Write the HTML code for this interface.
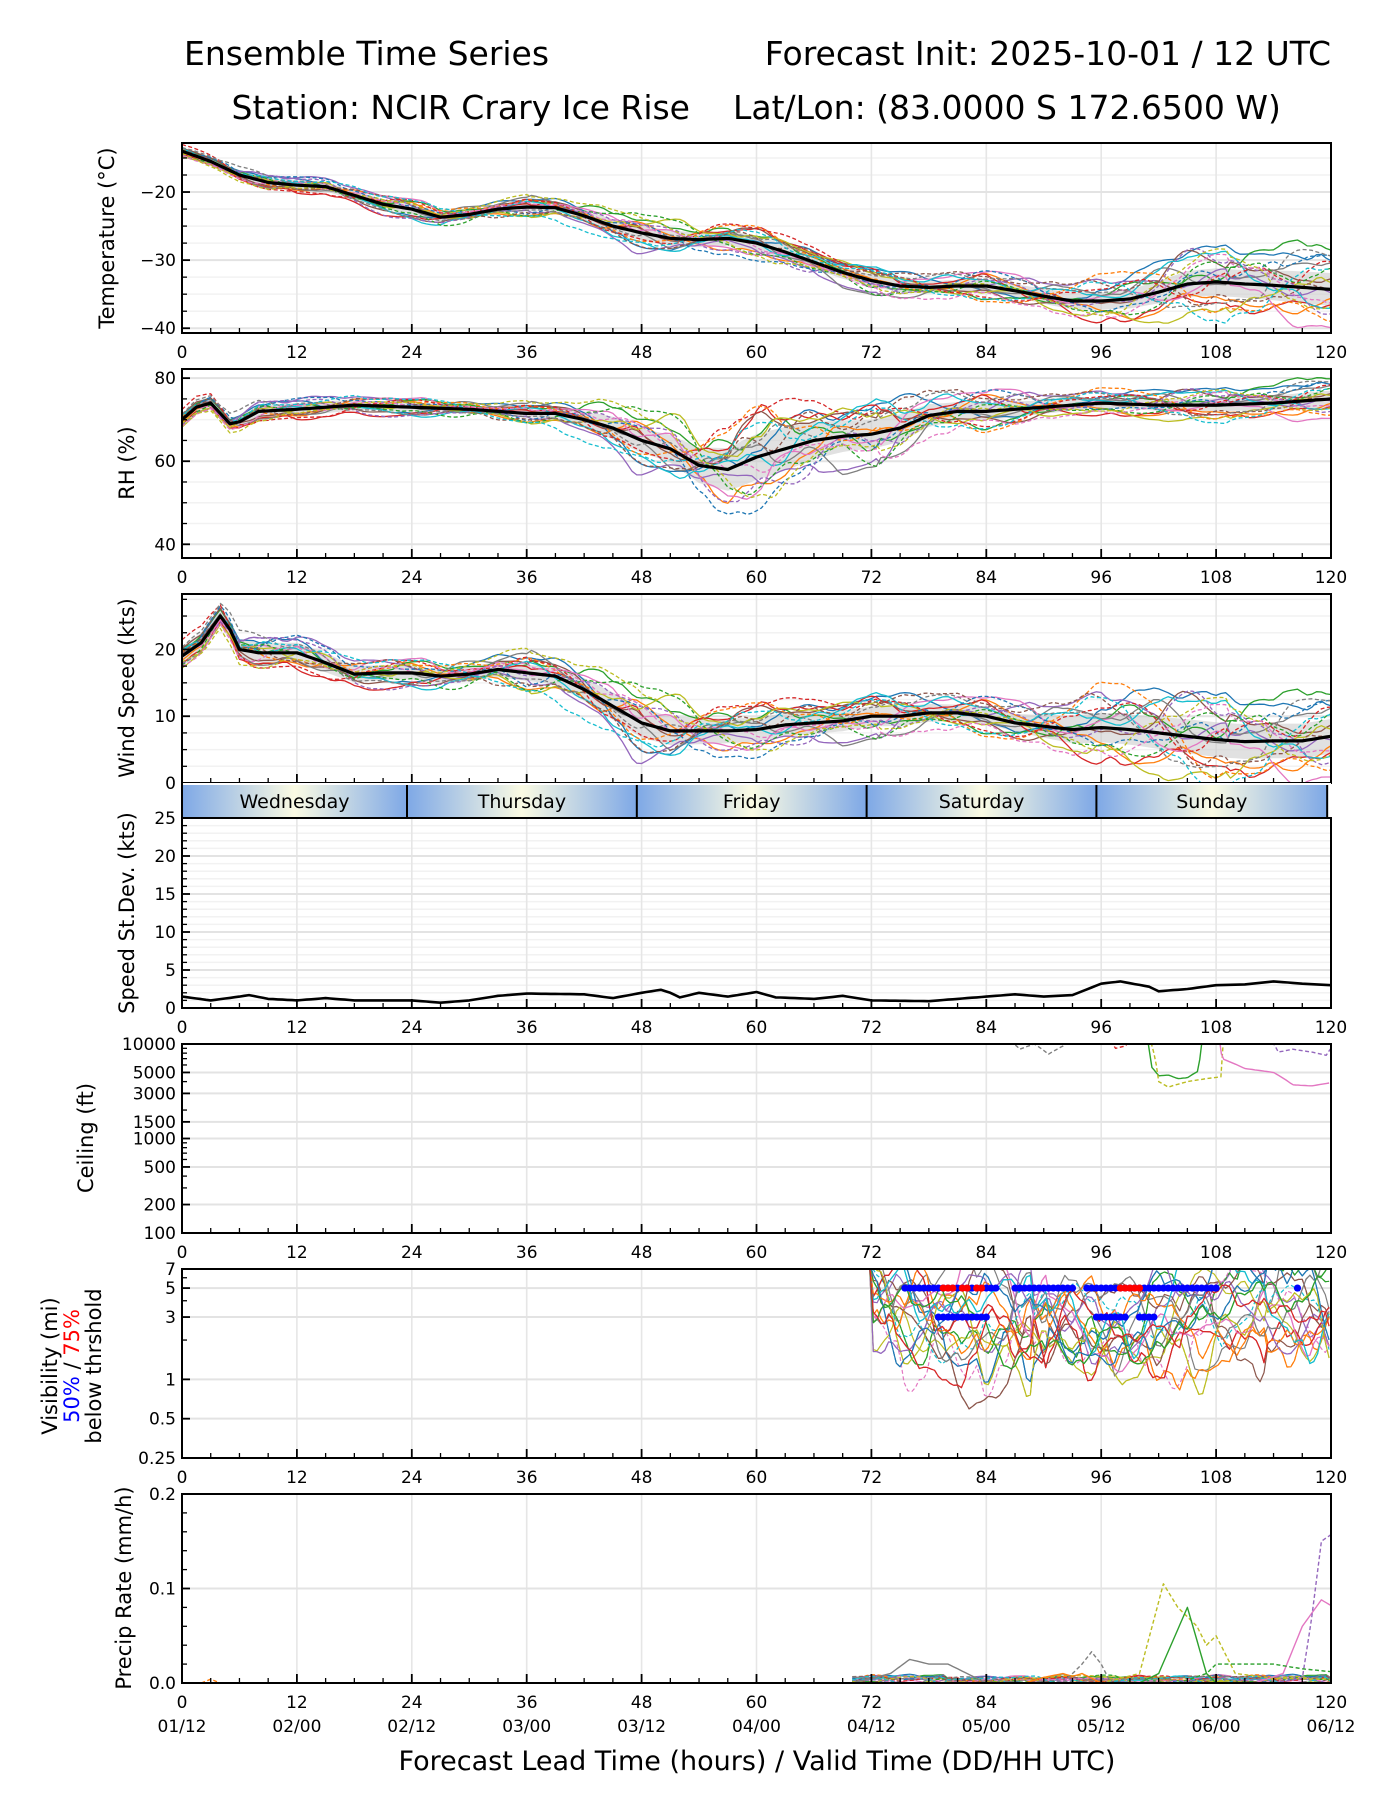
<!DOCTYPE html>
<html><head><meta charset="utf-8">
<style>
html,body{margin:0;padding:0;background:#fff;}
svg{display:block;font-family:"DejaVu Sans","Liberation Sans",sans-serif;}
</style></head>
<body>
<svg id="chart" width="1400" height="1800" viewBox="0 0 1400 1800" xmlns="http://www.w3.org/2000/svg">
<text x="184" y="65" font-size="33">Ensemble Time Series</text>
<text x="1331" y="65" font-size="33" text-anchor="end">Forecast Init: 2025-10-01 / 12 UTC</text>
<text x="690" y="119" font-size="33" text-anchor="end">Station: NCIR Crary Ice Rise</text>
<text x="733" y="119" font-size="33">Lat/Lon: (83.0000 S 172.6500 W)</text>
<text x="757" y="1770" font-size="27" text-anchor="middle">Forecast Lead Time (hours) / Valid Time (DD/HH UTC)</text>
</svg>
<script>
// ---- data ----
const hours12 = [0,12,24,36,48,60,72,84,96,108,120];
const validLabels = ["01/12","02/00","02/12","03/00","03/12","04/00","04/12","05/00","05/12","06/00","06/12"];
const days = ["Wednesday","Thursday","Friday","Saturday","Sunday"];
const dayStarts = [0,23.5,47.5,71.5,95.5];
const dayEnds = [23.5,47.5,71.5,95.5,119.6];

const tempH = [0,3,6,9,12,15,18,21,24,27,30,33,36,39,42,45,48,51,54,57,60,63,66,69,72,75,78,81,84,87,90,93,96,99,102,105,108,111,114,117,120];
const tempMean = [-14,-15.5,-17.5,-18.6,-19,-19.2,-20.5,-21.8,-22.5,-23.7,-23.3,-22.5,-22.2,-22.3,-23.5,-25,-26,-26.8,-27,-26.8,-27.5,-28.8,-30.3,-31.8,-33,-33.8,-34,-33.8,-33.8,-34.5,-35.3,-36,-36,-35.7,-34.7,-33.5,-33.2,-33.5,-33.7,-34,-34.3];
const tempSpread = [0.6,0.7,0.7,0.6,1.1,1.1,0.9,0.9,1.3,2.0,2.4];

const rhH = [0,1.5,3,5,6,8,12,18,24,30,36,39,42,45,48,51,54,57,60,63,66,69,72,75,78,81,84,90,96,102,108,114,120];
const rhMean = [70,73,74,69,69.5,72,72.5,73.5,73,72.5,71.5,71.5,70,68,65,63,59,58,61,63,65,66,66.5,68,71,72,72,73,74,73.5,73.5,74,75];
const rhSpread = [1.5,1.5,1.0,1.0,3.0,5.5,3.5,2.0,1.2,1.5,2.0];

const windH = [0,2,4,5,6,8,12,15,18,21,24,27,30,33,36,39,42,45,48,51,54,57,60,63,66,69,72,75,78,81,84,87,90,93,96,99,102,105,108,111,114,117,120];
const windMean = [19,21,25,23,20,19.5,19.5,18,16.3,16.5,16.5,16,16.3,17,16.5,16,14,11.5,9,7.8,7.8,7.8,8,8.7,9,9.3,10,10,10.5,10.5,10,9,8.5,8,8.3,8,7.5,7,6.5,6.2,6.3,6.3,7];
const windSpread = [1.5,1.5,1.0,1.2,2.2,1.8,1.5,1.2,2.2,2.6,2.6];

const sdH = [0,3,6,7,9,12,15,18,24,27,30,33,36,42,45,48,50,51,52,54,57,60,62,66,69,72,78,84,87,90,93,96,98,101,102,105,108,111,114,117,120];
const sdVals = [1.5,1.0,1.5,1.7,1.2,1.0,1.3,1.0,1.0,0.7,1.0,1.6,1.9,1.8,1.3,2.0,2.4,2.0,1.4,2.0,1.5,2.1,1.4,1.2,1.6,1.0,0.9,1.5,1.8,1.5,1.7,3.2,3.5,2.8,2.2,2.5,3.0,3.1,3.5,3.2,3.0];

const visH = [70,72,76,80,84,88,92,96,100,104,108,112,116,120];
const visCenter = [9,4,2.8,2.3,2.6,2.4,2.6,2.0,2.1,2.6,3.2,3.6,3.2,2.8];
const vis50at5 = [[75.5,85],[87,90.5],[91,93],[94.5,108],[116.5,116.5]];
const vis50at3 = [[79,82],[82.5,84],[95.5,98.5],[100,101.5]];
const vis75at5 = [[79.5,80.5],[81.5,82],[83,83.5],[98,99],[99.5,100]];

const ceilSeries = [
 {c:"#7f7f7f",d:true,h:[86,87.5,89,90.5,92,93.5],v:[12000,8800,10000,7800,9500,12000]},
 {c:"#d62728",d:true,h:[96.5,97.5,98.5,99.5],v:[12000,9000,9500,12000]},
 {c:"#2ca02c",d:false,h:[100.8,101.2,102,103,104,105,106.2,106.6],v:[12000,5800,4600,4700,4300,4400,5200,12000]},
 {c:"#bcbd22",d:true,h:[101,102,103,105,107,108.5,108.8],v:[12000,4000,3500,4000,4300,4500,12000]},
 {c:"#e377c2",d:false,h:[108.3,108.6,111,114,116,118,120],v:[12000,7000,5500,5000,3700,3600,3900]},
 {c:"#9467bd",d:true,h:[113.5,114.5,116,118,119.5,120],v:[12000,8200,8800,8200,7600,9000]}
];
const precipSeries = [
 {c:"#bcbd22",d:true,h:[96,100,102.5,104,106,107,108,110,114,120],v:[0,0.01,0.105,0.08,0.06,0.04,0.05,0.01,0.005,0.004]},
 {c:"#2ca02c",d:false,h:[100,102,105,107,108,120],v:[0,0.01,0.08,0.01,0,0]},
 {c:"#e377c2",d:false,h:[112,115,117,119,120],v:[0,0.01,0.06,0.088,0.082]},
 {c:"#9467bd",d:true,h:[114,117,118,119,120],v:[0,0.005,0.07,0.15,0.157]},
 {c:"#7f7f7f",d:false,h:[70,72,74,76,78,80,82,84],v:[0,0.005,0.01,0.025,0.02,0.02,0.01,0]},
 {c:"#2ca02c",d:true,h:[104,107,108,111,114,117,120],v:[0,0.01,0.02,0.02,0.02,0.015,0.012]},
 {c:"#ff7f0e",d:false,h:[88,90,92,93,94,96],v:[0,0.006,0.01,0.007,0.01,0]},
 {c:"#7f7f7f",d:true,h:[92,94,95,96,97],v:[0,0.02,0.033,0.02,0]},
 {c:"#ff7f0e",d:true,h:[2,3,4],v:[0,0.004,0]}
];

// member deviations (standardized) at 12h nodes
const memberZ = [
[0.3,0.8,-0.5,1.2,-0.9,0.4,1.5,-0.6,0.9,2.0,1.2],
[-0.2,-0.6,0.9,-1.1,0.5,-1.3,0.2,1.1,-0.8,-1.5,-0.4],
[0.5,0.2,0.4,0.7,1.3,0.9,-0.5,-1.4,0.6,0.8,1.8],
[-0.6,-1.2,-0.8,0.3,-0.4,1.6,0.8,0.4,-1.6,-0.9,-1.2],
[0.1,1.1,0.6,-0.4,-1.5,-0.7,-1.2,0.9,1.4,0.3,-0.2],
[0.7,-0.3,-1.3,0.9,0.2,0.6,1.1,-0.9,-0.3,1.3,0.6],
[-0.4,0.4,1.2,-0.2,0.8,-1.0,-0.3,1.6,0.2,-0.6,-1.8],
[0.2,-0.9,0.1,1.5,-0.6,0.3,-1.6,-0.2,1.1,0.5,0.9],
[-0.8,0.6,-0.2,-1.4,1.1,1.2,0.5,-0.5,-1.1,-1.8,0.3],
[0.4,-0.1,-1.0,0.5,-1.2,-0.3,1.7,0.7,0.4,1.6,-0.7],
[-0.1,1.4,0.3,-0.7,0.4,-1.6,-0.8,1.3,-0.5,0.1,1.4],
[0.6,-0.7,0.8,1.0,-0.2,0.8,0.3,-1.2,1.7,-1.1,-0.9],
[-0.5,0.3,-0.6,-0.9,1.6,-0.2,-1.1,0.2,-0.9,0.9,0.5],
[0.9,-1.3,0.5,0.2,-0.8,1.4,0.9,-1.7,0.8,-0.3,1.1],
[-0.3,0.9,-1.5,0.6,0.6,-0.9,-0.4,0.5,-0.2,1.9,-1.4],
[0.0,-0.4,1.0,-1.6,-1.0,0.1,1.3,1.0,1.3,-1.3,0.2],
[-0.7,0.1,-0.3,0.8,0.9,-0.5,-1.4,-0.8,-1.3,0.6,-0.5],
[0.8,1.0,-0.9,-0.5,-0.3,1.0,0.6,1.4,0.5,-0.7,1.6],
[-0.9,-1.0,0.7,1.3,1.4,-1.2,-0.9,-0.3,-0.6,1.1,-1.1],
[0.3,0.5,1.4,-1.2,-1.3,0.7,1.0,-1.1,1.0,-1.6,0.8]];
const memberColors = ["#1f77b4","#ff7f0e","#2ca02c","#d62728","#9467bd","#8c564b","#e377c2","#7f7f7f","#bcbd22","#17becf"];

// ---- helpers ----
const NS="http://www.w3.org/2000/svg";
const svg=document.getElementById('chart');
const X0=182, X1=1331;
function xs(h){return X0+(X1-X0)*h/120;}
function mk(tag,attrs,parent){const e=document.createElementNS(NS,tag);for(const k in attrs)e.setAttribute(k,attrs[k]);(parent||svg).appendChild(e);return e;}
function lin(H,V,t){if(t<=H[0])return V[0];for(let i=1;i<H.length;i++){if(t<=H[i]){const f=(t-H[i-1])/(H[i]-H[i-1]);return V[i-1]+f*(V[i]-V[i-1]);}}return V[V.length-1];}
function smooth12(arr,t){const k=Math.min(9,Math.floor(t/12));const f=(t-k*12)/12;const g=(1-Math.cos(Math.PI*f))/2;return arr[k]*(1-g)+arr[k+1]*g;}
function zAt(i,t){const a=smooth12(memberZ[i],t);const j=(i+7)%20;const k=Math.floor(t/4)%11, k2=(k+1)%11, f=(t%4)/4, g=(1-Math.cos(Math.PI*f))/2;const w=memberZ[j][k]*(1-g)+memberZ[j][k2]*g;return a+0.35*w;}

function panel(name,top,bot,yfun,yticks,ytickLabels,minorY,gridMinor){
  const g=mk('g',{});
  
  
  const cid='clip-'+name;
  const cp=mk('clipPath',{id:cid},g);mk('rect',{x:X0,y:top,width:X1-X0,height:bot-top},cp);
  gridMinor.forEach(v=>{const y=yfun(v);mk('line',{x1:X0,x2:X1,y1:y,y2:y,stroke:'#f2f2f2','stroke-width':1.5},g);});
  hours12.forEach(h=>{mk('line',{x1:xs(h),x2:xs(h),y1:top,y2:bot,stroke:'#e6e6e6','stroke-width':1.6},g);});
  yticks.forEach(v=>{const y=yfun(v);mk('line',{x1:X0,x2:X1,y1:y,y2:y,stroke:'#e3e3e3','stroke-width':2},g);});
  const plot=mk('g',{'clip-path':'url(#'+cid+')'},g);
  return {g,plot,top,bot,yfun,finish:function(showX){
    for(let h=0;h<=120;h+=3){const big=h%12===0;mk('line',{x1:xs(h),x2:xs(h),y1:bot,y2:bot-(big?9:5),stroke:'#000','stroke-width':big?1.8:1.3},g);}
    yticks.forEach(v=>{const y=yfun(v);mk('line',{x1:X0,x2:X0+8,y1:y,y2:y,stroke:'#000','stroke-width':1.8},g);});
    minorY.forEach(v=>{const y=yfun(v);mk('line',{x1:X0,x2:X0+5,y1:y,y2:y,stroke:'#000','stroke-width':1.3},g);});
    mk('rect',{x:X0,y:top,width:X1-X0,height:bot-top,fill:'none',stroke:'#000','stroke-width':2},g);
    yticks.forEach((v,i)=>{const t=mk('text',{x:X0-6,y:yfun(v)+6,'font-size':17,'text-anchor':'end'},g);t.textContent=ytickLabels[i];
      
      });
    if(showX){hours12.forEach(h=>{const t=mk('text',{x:xs(h),y:bot+25,'font-size':17,'text-anchor':'middle'},g);t.textContent=String(h);
      
      });}
  }};
}
function poly(parent,pts,color,width,dash,name){
  const d='M'+pts.map(p=>p[0].toFixed(1)+','+p[1].toFixed(1)).join('L');
  const a={d:d,fill:'none',stroke:color,'stroke-width':width,'stroke-linejoin':'round'};
  if(dash)a['stroke-dasharray']='4,2.5';
  const p=mk('path',a,parent);
  
  
  return p;
}
function ensemblePanel(P,H,mean,spread){
  const up=[],dn=[];
  for(let t=0;t<=120;t+=0.5){const m=lin(H,mean,t),s=smooth12(spread,t);up.push([xs(t),P.yfun(m+s)]);dn.push([xs(t),P.yfun(m-s)]);}
  const band=mk('path',{d:'M'+up.concat(dn.reverse()).map(p=>p[0].toFixed(1)+','+p[1].toFixed(1)).join('L')+'Z',fill:'#c8c8c8','fill-opacity':0.55},P.plot);
  
  
  for(let i=0;i<20;i++){
    const pts=[];for(let t=0;t<=120;t+=0.5){pts.push([xs(t),P.yfun(lin(H,mean,t)+smooth12(spread,t)*1.3*(zAt(i,t)+0.3*zAt((i+4)%20,(t*3.3)%120)))]);}
    poly(P.plot,pts,memberColors[i%10],1.3,i>=10,'ensemble-member');
  }
  const pts=[];for(let t=0;t<=120;t+=0.5){pts.push([xs(t),P.yfun(lin(H,mean,t))]);}
  poly(P.plot,pts,'#000',3.2,false,'ensemble-mean-line');
}
function ylab(text,x,y,name,size){const t=mk('text',{x:x,y:y,'font-size':size||21,'text-anchor':'middle',transform:'rotate(-90 '+x+' '+y+')'});t.textContent=text;
  
  return t;}
function rng(a,b,s){const r=[];for(let v=a;v<=b+1e-9;v+=s)r.push(+v.toFixed(3));return r;}

// ---- Temperature ----
let lo=-40.7,hi=-12.8;
let P=panel('temperature',143,333,v=>143+(hi-v)/(hi-lo)*190,[-20,-30,-40],['\u221220','\u221230','\u221240'],rng(-40,-14,2.5).filter(v=>v%10!==0),rng(-40,-14,2.5));
ensemblePanel(P,tempH,tempMean,tempSpread);P.finish(true);
ylab('Temperature (\u00b0C)',114,238,'temperature-axis-title');

// ---- RH ----
const rlo=36.7,rhi=82.2;
P=panel('rh',369,558,v=>369+(rhi-v)/(rhi-rlo)*189,[40,60,80],['40','60','80'],rng(40,80,5).filter(v=>v%20!==0),rng(40,80,5));
ensemblePanel(P,rhH,rhMean,rhSpread);P.finish(true);
ylab('RH (%)',134,463,'rh-axis-title');

// ---- Wind ----
const whi=28.3;
P=panel('wind',594,783,v=>783-v/whi*189,[0,10,20],['0','10','20'],rng(2.5,27.5,2.5).filter(v=>v%10!==0),rng(2.5,27.5,2.5));
ensemblePanel(P,windH,windMean,windSpread);P.finish(false);
ylab('Wind Speed (kts)',134,688,'wind-axis-title');

// ---- Day bar ----
const defs=mk('defs',{});
mk('rect',{x:X0,y:783,width:X1-X0,height:35,fill:'#fff'});
days.forEach((d,i)=>{
  const gid='dg'+i;const lg=mk('linearGradient',{id:gid,x1:0,x2:1,y1:0,y2:0},defs);
  [[0,'#7ea8e6'],[0.5,'#fbfbe3'],[1,'#7ea8e6']].forEach(s=>mk('stop',{offset:s[0],'stop-color':s[1]},lg));
  const r=mk('rect',{x:xs(dayStarts[i]),y:785,width:xs(dayEnds[i])-xs(dayStarts[i]),height:32,fill:'url(#'+gid+')'});
  
  
  if(i>0){mk('line',{x1:xs(dayStarts[i]),x2:xs(dayStarts[i]),y1:785,y2:817,stroke:'#000','stroke-width':2});}
  const t=mk('text',{x:(xs(dayStarts[i])+xs(dayEnds[i]))/2,y:808,'font-size':19,'text-anchor':'middle'});t.textContent=d;
  
  
});
mk('line',{x1:xs(119.6),x2:xs(119.6),y1:785,y2:817,stroke:'#000','stroke-width':2});
mk('line',{x1:X0,x2:X0,y1:783,y2:818,stroke:'#000','stroke-width':2});

// ---- StDev ----
P=panel('stdev',818,1008,v=>1008-v/25*190,[0,5,10,15,20,25],['0','5','10','15','20','25'],rng(1,24,1).filter(v=>v%5!==0),rng(1,24,1));
{const pts=[];for(let t=0;t<=120;t+=0.5)pts.push([xs(t),P.yfun(lin(sdH,sdVals,t))]);poly(P.plot,pts,'#000',2.6,false,'speed-stdev-line');}
P.finish(true);
ylab('Speed St.Dev. (kts)',134,913,'stdev-axis-title');

// ---- Ceiling ----
const cl=v=>1233-(Math.log10(v)-2)/2*189;
P=panel('ceiling',1044,1233,cl,[100,200,500,1000,1500,3000,5000,10000],['100','200','500','1000','1500','3000','5000','10000'],[300,400,600,700,800,900,2000,4000,6000,7000,8000,9000],[]);
ceilSeries.forEach(s=>{const pts=[];const a=s.h[0],b=s.h[s.h.length-1];for(let t=a;t<=b+1e-6;t+=0.25)pts.push([xs(t),cl(lin(s.h,s.v,t))]);poly(P.plot,pts,s.c,1.4,s.d,'ceiling-member');});
P.finish(true);
ylab('Ceiling (ft)',93,1138,'ceiling-axis-title');

// ---- Visibility ----
const vl=v=>1458-(Math.log(v)-Math.log(0.25))/(Math.log(7)-Math.log(0.25))*189;
P=panel('visibility',1269,1458,vl,[0.25,0.5,1,3,5,7],['0.25','0.5','1','3','5','7'],[2,4,6],[]);
for(let i=0;i<34;i++){
  const pts=[];const zi=i%20;
  for(let t=69;t<=120;t+=0.4){
    const c=lin(visH,visCenter,t);
    const j=(zi+3)%20;
    const w=0.6*zAt(zi,t)+0.6*zAt(j,(t*2.7)%120)+0.45*zAt((zi+11)%20,(t*5.3)%120);
    let v=c*Math.exp(0.62*w);if(t<72)v=Math.max(v,7*Math.exp((72-t)*0.5));
    pts.push([xs(t),vl(v)]);
  }
  poly(P.plot,pts,memberColors[i%10],1.2,(i%3===1),'visibility-member');
}
function dots(ranges,val,color,name){ranges.forEach(r=>{for(let t=r[0];t<=r[1]+1e-6;t+=0.5){const c=mk('circle',{cx:xs(t),cy:vl(val),r:3.6,fill:color},P.plot);
  
  }});}
dots(vis50at5,5,'#0000ff','vis-50pct-marker');
dots(vis75at5,5,'#ff0000','vis-75pct-marker');
dots(vis50at3,3,'#0000ff','vis-50pct-marker');
P.finish(true);
{const x=57,y=1366;const t=mk('text',{x:x,y:y,'font-size':21,'text-anchor':'middle',transform:'rotate(-90 '+x+' '+y+')'});t.textContent='Visibility (mi)';
 
 
 const x2=79;const t2=mk('text',{x:x2,y:y,'font-size':21,'text-anchor':'middle',transform:'rotate(-90 '+x2+' '+y+')'});
 
 
 const s1=mk('tspan',{fill:'#0000ff'},t2);s1.textContent='50%';const s2=mk('tspan',{fill:'#000'},t2);s2.textContent=' / ';const s3=mk('tspan',{fill:'#ff0000'},t2);s3.textContent='75%';
 ylab('below thrshold',101,1366,'visibility-axis-subtitle');}

// ---- Precip ----
const pl=v=>1683-v/0.2*189;
P=panel('precip',1494,1683,pl,[0,0.1,0.2],['0.0','0.1','0.2'],rng(0.02,0.18,0.02).filter(v=>Math.abs(v-0.1)>1e-6),[]);
for(let i=0;i<20;i++){const pts=[];for(let t=70;t<=120;t+=0.5){pts.push([xs(t),pl(Math.max(0,0.003+0.003*zAt(i,(t*3)%120)))]);}poly(P.plot,pts,memberColors[i%10],1.2,i>=10,'precip-member');}
precipSeries.forEach(s=>{const pts=[];const a=s.h[0],b=s.h[s.h.length-1];for(let t=a;t<=b+1e-6;t+=0.25)pts.push([xs(t),pl(lin(s.h,s.v,t))]);poly(P.plot,pts,s.c,1.4,s.d,'precip-member');});
P.finish(true);
hours12.forEach((h,i)=>{const t=mk('text',{x:xs(h),y:1732,'font-size':17,'text-anchor':'middle'});t.textContent=validLabels[i];
  
  });
ylab('Precip Rate (mm/h)',131,1588,'precip-axis-title');
</script>
</body></html>
